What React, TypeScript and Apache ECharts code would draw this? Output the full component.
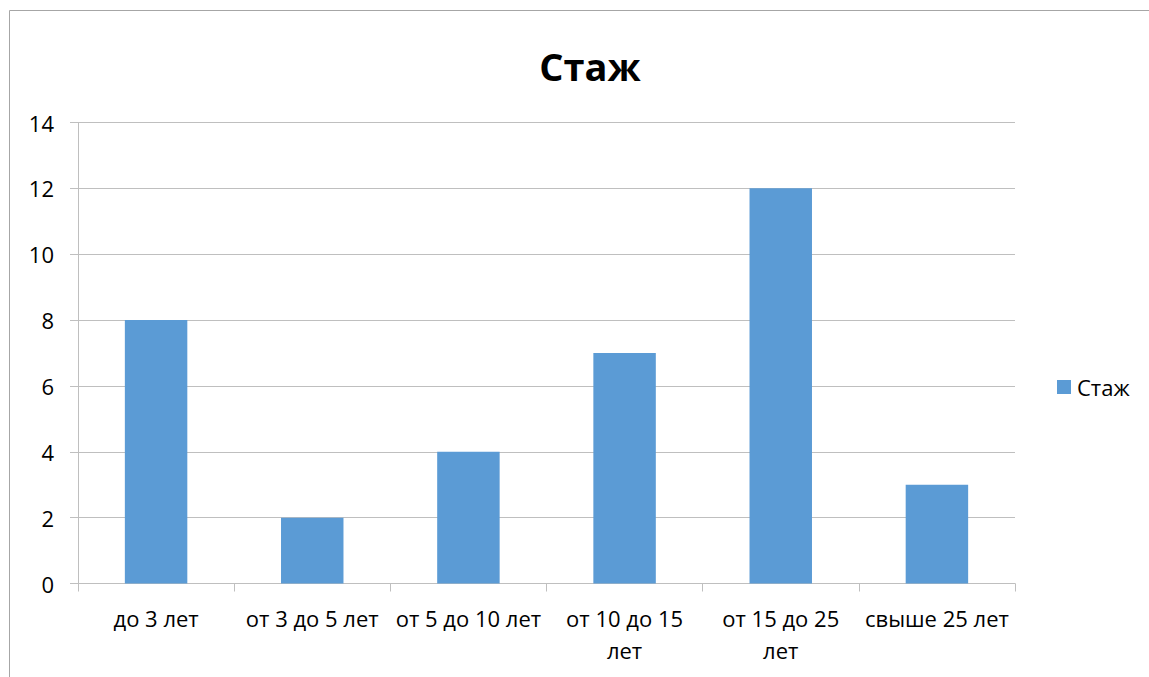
import React, { useEffect, useRef } from "react";
import * as echarts from "echarts";

const categories = ["до 3 лет", "от 3 до 5 лет", "от 5 до 10 лет", "от 10 до 15 лет", "от 15 до 25 лет", "свыше 25 лет"];
const values = [8, 2, 4, 7, 12, 3];
const seriesName = "Стаж";
const titleText = "Стаж";

const FONT = "'Open Sans', 'Noto Sans', sans-serif";

export default function App() {
  const ref = useRef<HTMLDivElement>(null);
  useEffect(() => {
    const chart = echarts.init(ref.current!, undefined, { renderer: "svg" });
    chart.setOption({
      animation: false,
      backgroundColor: "#ffffff",
      textStyle: { fontFamily: FONT },
      title: {
        text: titleText,
        left: 585,
        textAlign: "center",
        top: 42,
        textStyle: { fontFamily: FONT, fontWeight: "bold", fontSize: 38, color: "#000000" },
      },
      legend: {
        data: [seriesName],
        left: 1052,
        top: 371,
        orient: "vertical",
        icon: "rect",
        itemWidth: 14,
        itemHeight: 14,
        itemGap: 6,
        textStyle: { fontFamily: FONT, fontSize: 22, color: "#000000", padding: [0, 0, 0, 1] },
      },
      grid: { left: 78, right: 134, top: 122.5, bottom: 93.5, containLabel: false },
      xAxis: {
        type: "category",
        data: categories,
        axisLine: { lineStyle: { color: "#bfbfbf", width: 1 } },
        axisTick: { show: true, length: 8, alignWithLabel: false, lineStyle: { color: "#bfbfbf" } },
        axisLabel: {
          interval: 0,
          margin: 18,
          fontFamily: FONT,
          fontSize: 22,
          color: "#000000",
          lineHeight: 32,
          formatter: (v: string) => {
            if (v.length > 14) {
              const i = v.lastIndexOf(" ");
              return v.slice(0, i) + "\n" + v.slice(i + 1);
            }
            return v;
          },
        },
      },
      yAxis: {
        type: "value",
        min: 0,
        max: 14,
        interval: 2,
        axisLine: { show: true, lineStyle: { color: "#bfbfbf", width: 1 } },
        axisTick: { show: true, length: 8, lineStyle: { color: "#bfbfbf" } },
        splitLine: { show: true, lineStyle: { color: "#bfbfbf", width: 1 } },
        axisLabel: { margin: 24, fontFamily: FONT, fontSize: 22, color: "#000000" },
      },
      series: [
        {
          name: seriesName,
          type: "bar",
          data: values,
          barWidth: "40%",
          itemStyle: { color: "#5b9bd5" },
        },
      ],
      graphic: [
        {
          type: "rect",
          shape: { x: 9.5, y: 10.5, width: 1300, height: 900 },
          style: { fill: "none", stroke: "#a6a6a6", lineWidth: 1 },
          silent: true,
        },
      ],
    });
    return () => chart.dispose();
  }, []);
  return <div ref={ref} style={{ position: "absolute", left: 0, top: 0, width: 1149, height: 677 }} />;
}
